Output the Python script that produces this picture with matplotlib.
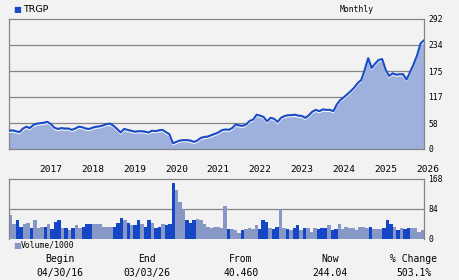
import numpy as np
import matplotlib
matplotlib.use("Agg")
import matplotlib.pyplot as plt
from matplotlib.transforms import offset_copy, blended_transform_factory

# monthly closes, Apr 2016 .. Mar 2026
price = [41, 42, 40, 38, 46, 50, 47, 54, 57, 58, 59, 61, 56, 48, 45, 47, 46, 46, 43, 46,
         50, 49, 46, 45, 48, 50, 51, 53, 56, 57, 52, 45, 37, 45, 43, 41, 39, 40, 40, 39,
         37, 41, 40, 42, 43, 38, 33, 13, 16, 19, 20, 20, 19, 16, 19, 25, 27, 28, 31, 34,
         37, 42, 44, 43, 47, 55, 53, 52, 55, 63, 66, 77, 75, 72, 62, 70, 68, 61, 70, 74,
         76, 76, 77, 75, 74, 70, 76, 84, 88, 85, 89, 88, 88, 85, 100, 110, 116, 123, 130, 138,
         148, 155, 178, 204, 182, 192, 200, 202, 178, 164, 170, 167, 168, 168, 156, 173, 190, 210, 237, 244.04]

# monthly volume / 1000
volume = [68, 43, 52, 35, 43, 46, 32, 52, 32, 35, 35, 41, 27, 49, 52, 30, 30, 24, 32, 38,
          32, 35, 41, 41, 41, 41, 43, 35, 35, 35, 35, 46, 60, 54, 46, 38, 38, 52, 43, 35,
          54, 46, 30, 35, 43, 38, 43, 158, 137, 104, 84, 52, 46, 52, 57, 52, 43, 35, 30, 35,
          33, 31, 93, 27, 27, 24, 18, 24, 27, 30, 27, 38, 27, 54, 49, 30, 27, 35, 84, 30,
          27, 24, 30, 38, 24, 32, 32, 21, 32, 27, 31, 32, 38, 24, 27, 41, 27, 35, 30, 32,
          24, 35, 35, 32, 35, 27, 27, 27, 32, 54, 43, 35, 24, 30, 27, 30, 30, 30, 21, 24]

# 1 = month closed up (light bar), 0 = down (dark bar)
month_up = [1, 1, 0, 0, 1, 1, 0, 1, 1, 1, 0, 1, 0, 0, 0, 1, 0, 1, 0, 1,
            1, 0, 0, 0, 1, 1, 1, 1, 1, 1, 0, 0, 0, 1, 0, 1, 0, 0, 1, 0,
            0, 1, 0, 0, 1, 0, 0, 0, 1, 1, 1, 0, 0, 0, 1, 1, 1, 1, 1, 1,
            1, 1, 1, 0, 1, 1, 1, 0, 1, 1, 1, 1, 0, 0, 0, 1, 0, 0, 1, 1,
            0, 1, 0, 0, 1, 0, 1, 1, 1, 0, 0, 0, 1, 0, 0, 1, 1, 1, 1, 1,
            1, 1, 1, 1, 0, 1, 1, 1, 0, 0, 0, 1, 0, 1, 0, 0, 1, 1, 1, 1]

years = ["2017", "2018", "2019", "2020", "2021", "2022", "2023", "2024", "2025", "2026"]
price_ticks = [0, 58, 117, 175, 234, 292]
vol_ticks = [0, 84, 168]

footer_heads = ["Begin", "End", "From", "Now", "% Change"]
footer_vals = ["04/30/16", "03/03/26", "40.460", "244.04", "503.1%"]

BG = "#f2f2f2"
GRID = "#858585"
LINE = "#1a4cc8"
FILL = "#9eb0dc"
DARK = "#1546c6"
LIGHT = "#8798c6"
MONO = "DejaVu Sans Mono"

fig = plt.figure(figsize=(4.6, 2.8), dpi=100, facecolor=BG)

# ---- price panel
ax = fig.add_axes([9 / 460, 1 - 149 / 280, 415 / 460, 130 / 280], facecolor=BG)
x = np.arange(len(price))
ax.fill_between(x, 0, price, color=FILL, lw=0, zorder=2)
shadow = offset_copy(ax.transData, fig=fig, x=0, y=-1.6, units="dots")
ax.plot(x, price, color="white", lw=0.8, transform=shadow, zorder=3)
ax.plot(x, price, color=LINE, lw=1.5, zorder=4)
ax.set_xlim(0, len(price) - 1)
ax.set_ylim(0, 292)
ax.set_yticks(price_ticks)
ax.yaxis.tick_right()
ax.tick_params(axis="y", length=0, pad=3, labelsize=5.8, labelfontfamily=MONO)
ax.set_xticks([])
for v in price_ticks[1:-1]:
    ax.axhline(v, color=GRID, lw=0.9, zorder=1)
for s in ax.spines.values():
    s.set_color(GRID)
    s.set_linewidth(0.9)

# year labels between the panels
tr = blended_transform_factory(ax.transData, fig.transFigure)
for k, yr in enumerate(years):
    ax.text(12 * (k + 1), 1 - 170 / 280, yr, transform=tr, ha="center", va="center",
            fontsize=6.8, family=MONO, clip_on=False)

# legend / header
fig.text(13 / 460, 1 - 9.5 / 280, "\u25A0", color=LINE, fontsize=6, va="center", ha="left")
fig.text(23 / 460, 1 - 9.5 / 280, "TRGP", fontsize=6.8, va="center", ha="left")
fig.text(357 / 460, 1 - 9 / 280, "Monthly", fontsize=5.8, family=MONO, va="center", ha="center")

# ---- volume panel
axv = fig.add_axes([9 / 460, 1 - 239 / 280, 415 / 460, 60 / 280], facecolor=BG)
colors = [LIGHT if u else DARK for u in month_up]
axv.bar(np.arange(len(volume)), volume, width=1.0, color=colors, lw=0, zorder=2)
axv.set_xlim(-0.5, len(volume) - 0.5)
axv.set_ylim(0, 168)
axv.set_yticks(vol_ticks)
axv.yaxis.tick_right()
axv.tick_params(axis="y", length=0, pad=3, labelsize=5.8, labelfontfamily=MONO)
axv.set_xticks([])
axv.axhline(84, color=GRID, lw=0.9, zorder=1)
for s in axv.spines.values():
    s.set_color(GRID)
    s.set_linewidth(0.9)
axv.spines["bottom"].set_visible(False)

fig.text(13 / 460, 1 - 245.5 / 280, "\u25A0", color=LIGHT, fontsize=6, va="center", ha="left")
fig.text(21 / 460, 1 - 245.5 / 280, "Volume/1000", fontsize=5.8, family=MONO, va="center", ha="left")

# ---- footer
foot_x = [60, 147, 241, 330, 414]
for fx, h, v in zip(foot_x, footer_heads, footer_vals):
    fig.text(fx / 460, 1 - 259 / 280, h, fontsize=7, family=MONO, ha="center", va="center")
    fig.text(fx / 460, 1 - 273 / 280, v, fontsize=7, family=MONO, ha="center", va="center")

fig.savefig("out.png", dpi=100, facecolor=BG)
